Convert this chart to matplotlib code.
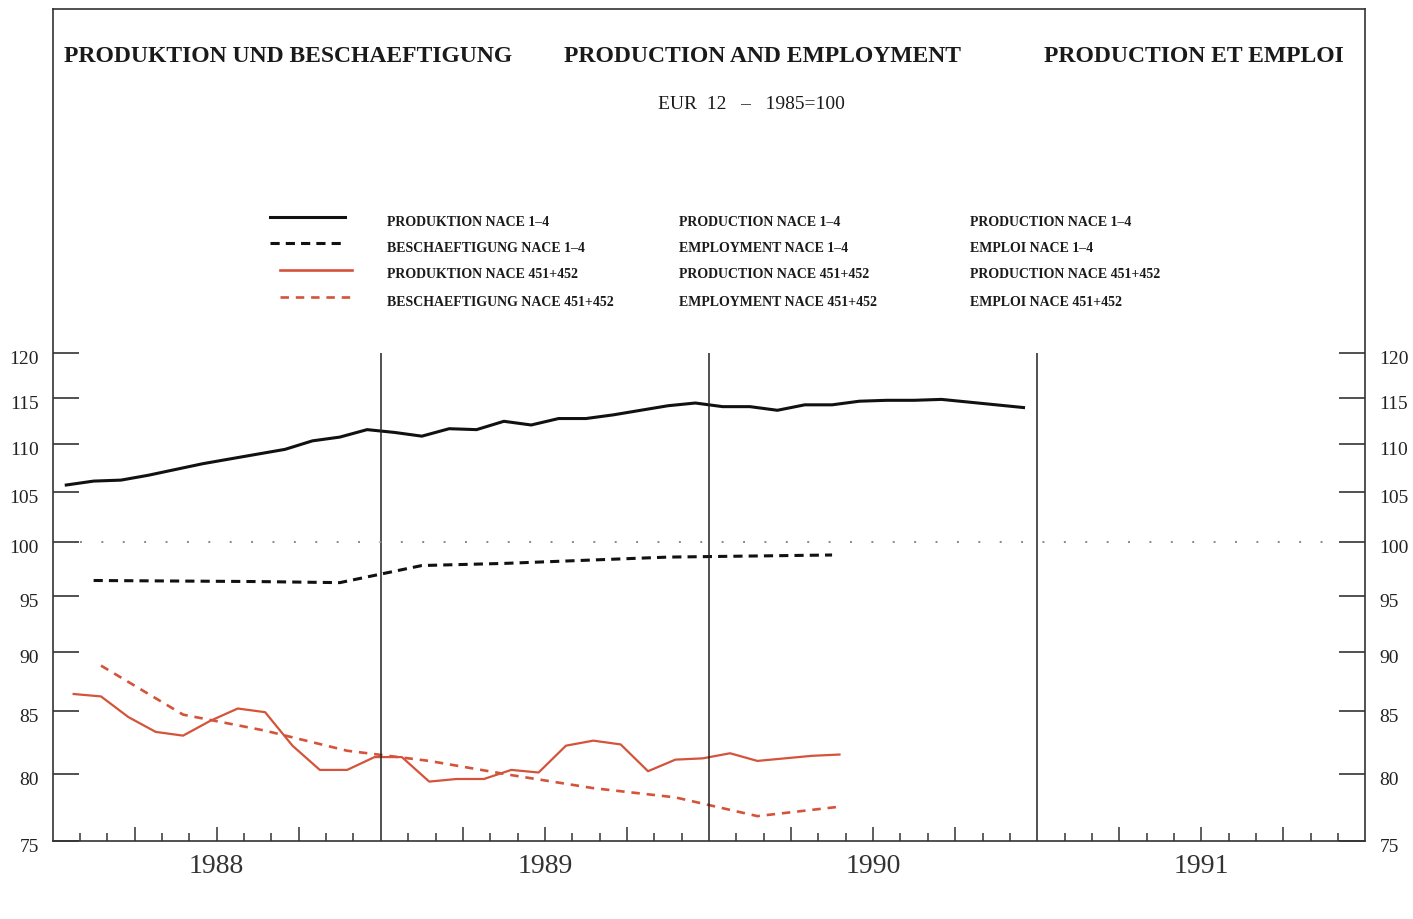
import numpy as np
import matplotlib.pyplot as plt
from matplotlib.lines import Line2D
from matplotlib.ticker import FixedLocator, NullLocator, FuncFormatter
from matplotlib.transforms import ScaledTranslation

plt.rcParams['font.family'] = ['Liberation Serif', 'DejaVu Serif']

# Indices EUR 12 (1985=100), mes 0 = enero 1988
meses_prod = np.arange(36)
prod_1_4 = [105.7, 106.1, 106.2, 106.7, 107.3, 107.9, 108.4, 108.9, 109.4, 110.3, 110.7, 111.5,
            111.2, 110.8, 111.6, 111.5, 112.4, 112.0, 112.7, 112.7, 113.1, 113.6, 114.1, 114.4,
            114.0, 114.0, 113.6, 114.2, 114.2, 114.6, 114.7, 114.7, 114.8, 114.5, 114.2, 113.9]

# empleo: datos trimestrales (mes central del trimestre)
meses_trim = np.arange(1, 29, 3)
empleo_1_4 = [96.4, 96.35, 96.3, 96.2, 97.8, 98.0, 98.3, 98.6, 98.7, 98.8]

meses_451 = np.arange(29)
prod_451 = [86.4, 86.2, 84.5, 83.3, 83.0, 84.2, 85.2, 84.9, 82.2, 80.3, 80.3, 81.3,
            81.3, 79.4, 79.6, 79.6, 80.3, 80.1, 82.2, 82.6, 82.3, 80.2, 81.1, 81.2,
            81.6, 81.0, 81.2, 81.4, 81.5]
empleo_451 = [88.8, 84.7, 83.4, 81.8, 81.0, 79.9, 78.9, 78.2, 76.8, 77.5]

anios = [1988, 1989, 1990, 1991]
ticks_y = [75, 80, 85, 90, 95, 100, 105, 110, 115, 120]

titulos = ['PRODUKTION UND BESCHAEFTIGUNG', 'PRODUCTION AND EMPLOYMENT', 'PRODUCTION ET EMPLOI']
leyenda_de = ['PRODUKTION NACE 1\u20134', 'BESCHAEFTIGUNG NACE 1\u20134',
              'PRODUKTION NACE 451+452', 'BESCHAEFTIGUNG NACE 451+452']
leyenda_en = ['PRODUCTION NACE 1\u20134', 'EMPLOYMENT NACE 1\u20134',
              'PRODUCTION NACE 451+452', 'EMPLOYMENT NACE 451+452']
leyenda_fr = ['PRODUCTION NACE 1\u20134', 'EMPLOI NACE 1\u20134',
              'PRODUCTION NACE 451+452', 'EMPLOI NACE 451+452']

rojo = '#d4533a'
W, H = 1413, 920

def fx(px):
    return px / W

def fy(py):
    return 1 - py / H

# meses -> años decimales
def t_mes(m, desp=0.5):
    return 1988 + (np.asarray(m) + desp) / 12.0

fig = plt.figure(figsize=(W / 100, H / 100), dpi=100)
ax = fig.add_axes([fx(52.6), fy(841.7), fx(1365.4 - 52.6), (841.7 - 10) / H])
ax.set_yscale('log')
ax.set_xlim(1988, 1992)
ax.set_ylim(75, 167.3)

# series
ax.plot(t_mes(meses_prod), prod_1_4, color='#111111', lw=2.2, solid_joinstyle='round')
ax.plot(t_mes(meses_trim), empleo_1_4, color='#111111', lw=2.2, linestyle=(0, (3.0, 2.0)))
ax.plot(t_mes(meses_451, 0.77), prod_451, color=rojo, lw=1.6)
ax.plot(t_mes(meses_trim, 0.77), empleo_451, color=rojo, lw=1.9, linestyle=(0, (3.2, 2.6)))

# separacion de años y linea de 100
ax.vlines(anios[1:], 75, 120, color='#222222', lw=1.1)
ax.hlines(100, 1988.083, 1991.923, color='#888888', lw=1.4, linestyle=(0, (1, 10)))

# eje y (log) con etiquetas a ambos lados
ax.yaxis.set_major_locator(FixedLocator(ticks_y))
ax.yaxis.set_minor_locator(NullLocator())
ax.yaxis.set_major_formatter(FuncFormatter(lambda v, p: '%d' % round(v)))
ax.tick_params(axis='y', which='major', direction='in', length=19, width=1.1,
               left=True, right=True, labelleft=True, labelright=True,
               labelsize=14, pad=10, colors='#222222')
bajar = ScaledTranslation(0, -2.5 / 72, fig.dpi_scale_trans)
for t in ax.yaxis.get_major_ticks():
    t.label1.set_transform(t.label1.get_transform() + bajar)
    t.label2.set_transform(t.label2.get_transform() + bajar)

# eje x: meses (menor), trimestres (mayor), año en el medio
trim = [a + q for a in anios for q in (0.25, 0.5, 0.75)]
meses = [a + k / 12 for a in anios for k in range(1, 12) if k % 3 != 0]
ax.xaxis.set_major_locator(FixedLocator(trim))
ax.xaxis.set_minor_locator(FixedLocator(meses))
ax.xaxis.set_major_formatter(FuncFormatter(
    lambda v, p: '%d' % int(v) if abs(v - int(v) - 0.5) < 1e-6 else ''))
ax.tick_params(axis='x', which='major', direction='in', length=10, width=1.1,
               labelsize=20, pad=9, colors='#333333')
ax.tick_params(axis='x', which='minor', direction='in', length=6, width=1.1, colors='#333333')

for s in ax.spines.values():
    s.set_color('#333333')
    s.set_linewidth(1.2)

# titulos
for txt, cx in zip(titulos, [288.5, 763, 1193.5]):
    fig.text(fx(cx), fy(57), txt, ha='center', va='center', fontsize=17,
             fontweight='bold', color='#1a1a1a')
fig.text(fx(751), fy(105), 'EUR  12   \u2013   1985=100', ha='center', va='center',
         fontsize=14, color='#1a1a1a')

# leyenda
estilos = [dict(color='#111111', lw=2.2, ls='-'),
           dict(color='#111111', lw=2.2, ls=(0, (3.0, 2.0))),
           dict(color=rojo, lw=1.9, ls='-'),
           dict(color=rojo, lw=1.9, ls=(0, (3.2, 2.6)))]
filas = [218, 244, 271, 298]
x_muestra = [(270, 345), (270, 345), (280, 352), (280, 352)]
for est, yy, (x0, x1) in zip(estilos, filas, x_muestra):
    fig.add_artist(Line2D([fx(x0), fx(x1)], [fy(yy), fy(yy)], **est))
for col, textos in zip([387, 679, 970], [leyenda_de, leyenda_en, leyenda_fr]):
    for yy, t in zip(filas, textos):
        fig.text(fx(col), fy(yy + 4), t, ha='left', va='center', fontsize=10,
                 fontweight='bold', color='#1a1a1a')

fig.savefig('out.png', dpi=100)
